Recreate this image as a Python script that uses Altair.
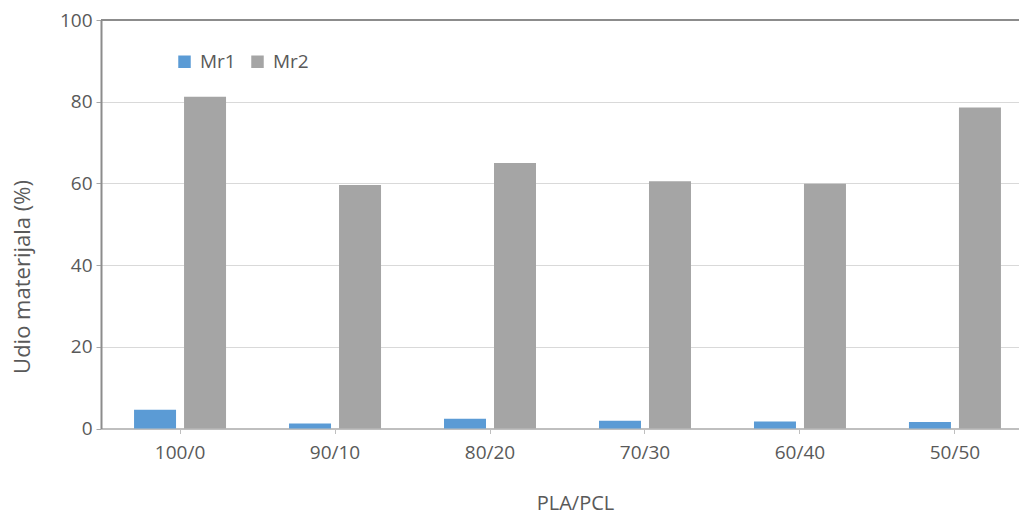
import altair as alt
import pandas as pd

categories = ["100/0", "90/10", "80/20", "70/30", "60/40", "50/50"]
series = ["Mr1", "Mr2"]
mr1 = [4.6, 1.2, 2.4, 1.9, 1.7, 1.6]
mr2 = [81.2, 59.6, 65.0, 60.5, 59.9, 78.6]
colors = ["#5B9BD5", "#A5A5A5"]
y_ticks = [0, 20, 40, 60, 80, 100]

rows = []
for c, a, b in zip(categories, mr1, mr2):
    rows.append({"cat": c, "series": "Mr1", "val": a})
    rows.append({"cat": c, "series": "Mr2", "val": b})
df = pd.DataFrame(rows)

FONT = "Open Sans"
LBL = "#595959"

bars = alt.Chart(df).mark_bar().encode(
    x=alt.X("cat:N", sort=categories,
            scale=alt.Scale(paddingInner=0, paddingOuter=0.01, range=[0, 933]),
            axis=alt.Axis(title="PLA/PCL", labelAngle=0, labelFontSize=19, labelFont=FONT,
                          labelColor=LBL, labelPadding=10, tickSize=5, tickColor="#BFBFBF",
                          tickWidth=1, domainColor="#BFBFBF", domainWidth=2,
                          titleFont=FONT, titleFontSize=20, titleFontWeight="normal",
                          titleColor=LBL, titleX=474, titleY=81, titleBaseline="alphabetic")),
    xOffset=alt.XOffset("series:N", sort=series,
                        scale=alt.Scale(paddingInner=0.16, paddingOuter=0.63)),
    y=alt.Y("val:Q", scale=alt.Scale(domain=[0, 100], nice=False),
            axis=alt.Axis(title="Udio materijala (%)", values=y_ticks, labelFontSize=19,
                          labelFont=FONT, labelColor=LBL, labelPadding=4, tickSize=5,
                          tickColor="#A6A6A6", domainColor="#8C8C8C", domainWidth=2,
                          grid=True, gridColor="#D9D9D9", gridWidth=1,
                          titleFont=FONT, titleFontSize=22, titleFontWeight="normal",
                          titleColor=LBL, titleX=-72, titleY=256.5, titleAngle=270,
                          titleAlign="center", titleBaseline="alphabetic")),
    color=alt.Color("series:N", sort=series,
                    scale=alt.Scale(domain=series, range=colors),
                    legend=alt.Legend(title=None, orient="none", legendX=74, legendY=32,
                                      direction="horizontal", symbolType="square",
                                      symbolSize=156, symbolStrokeWidth=0,
                                      labelFont=FONT, labelFontSize=19, labelColor=LBL,
                                      labelOffset=6, columnPadding=12, padding=0)),
)

top_line = alt.Chart(pd.DataFrame({"v": [100]})).mark_rule(
    color="#8C8C8C", strokeWidth=2
).encode(y=alt.Y("v:Q"))

chart = alt.layer(bars, top_line).properties(
    width=918, height=408.5,
    autosize=alt.AutoSizeParams(type="none"),
    padding={"left": 93, "top": 12, "right": 0, "bottom": 83},
).configure_view(stroke=None)

chart.save("out.html", embed_options={"renderer": "svg", "actions": False})
